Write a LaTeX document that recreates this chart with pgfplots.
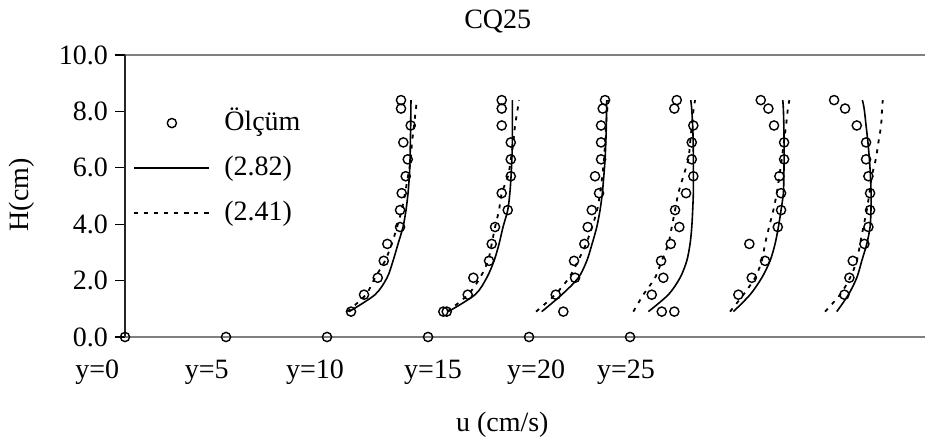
\documentclass[border=0pt]{standalone}
\usepackage{pgfplots}
\pgfplotsset{compat=1.18}
\usepackage{fontspec}
\setmainfont{Liberation Serif}
\begin{document}
\begin{tikzpicture}[font=\fontsize{14pt}{17pt}\selectfont]
\begin{axis}[
  scale only axis, width=400pt, height=141pt,
  xmin=0, xmax=158.4, ymin=0, ymax=10,
  separate axis lines,
  axis x line*=box, axis y line*=left,
  x axis line style={draw=gray, line width=0.9pt},
  y axis line style={draw=black!85, line width=0.8pt},
  xtick=\empty,
  ytick={0,2,4,6,8,10},
  /pgf/number format/assume math mode=true,
  yticklabel style={/pgf/number format/fixed, /pgf/number format/fixed zerofill, /pgf/number format/precision=1},
  tick align=outside, major tick length=5pt,
  tick style={black, line width=0.6pt},
  clip=false,
  legend style={at={(axis cs:1.6,5.99)}, anchor=west, draw=none, fill=none, inner sep=0pt,
     row sep=9.5pt, nodes={inner sep=0pt, text height=10pt, text depth=3pt},
     /tikz/every odd column/.append style={column sep=7pt}},
  legend cell align=left,
  legend image code/.code={\draw[mark repeat=2,mark phase=2,#1] plot coordinates {(0pt,0pt) (18.75pt,0pt) (37.5pt,0pt)};},
  circ/.style={only marks, mark=o, mark size=2.3pt, mark options={line width=0.7pt, black}},
  sol/.style={black, line width=0.8pt, smooth, tension=0.5},
  dot/.style={black, line width=0.9pt, dash pattern=on 2pt off 3pt, smooth, tension=0.5},
]
% profile 1 (y=0)
\addplot[circ] coordinates {(54.65,8.4)(54.65,8.1)(56.57,7.5)(55.11,6.9)(55.98,6.3)(55.58,5.7)(54.79,5.1)(54.46,4.5)(54.46,3.9)(51.94,3.3)(51.23,2.7)(50.04,2.1)(47.33,1.5)(44.75,0.9)(0,0)};
\addlegendentry{Ölçüm}
\addplot[sol] coordinates {(44.36,0.9)(49.50,1.5)(51.88,2.1)(53.07,2.7)(54.06,3.3)(55.05,3.9)(55.64,4.5)(56.04,5.1)(56.30,5.7)(56.44,6.3)(56.50,6.9)(56.57,7.5)(56.60,8.1)(56.63,8.4)};
\addlegendentry{(2.82)}
\addplot[dot] coordinates {(44.0,0.9)(47.7,1.5)(49.50,2.1)(51.49,2.7)(52.81,3.3)(53.86,3.9)(54.79,4.5)(55.45,5.1)(56.04,5.7)(56.57,6.3)(56.83,6.9)(57.23,7.5)(57.60,8.1)(57.82,8.4)};
\addlegendentry{(2.41)}
% profile 2 (y=5)
\addplot[circ, forget plot] coordinates {(74.59,8.4)(74.59,8.1)(74.59,7.5)(76.38,6.9)(76.38,6.3)(76.38,5.7)(74.59,5.1)(75.78,4.5)(73.27,3.9)(72.61,3.3)(72.08,2.7)(68.97,2.1)(67.86,1.5)(63.03,0.9)(63.70,0.9)(20,0)};
\addplot[sol, forget plot] coordinates {(64.0,0.9)(69.31,1.5)(71.62,2.1)(73.07,2.7)(74.06,3.3)(74.85,3.9)(75.78,4.5)(76.20,5.1)(76.44,5.7)(76.60,6.3)(76.69,6.9)(76.69,7.5)(76.69,8.1)(76.69,8.4)};
\addplot[dot, forget plot] coordinates {(63.8,0.9)(67.92,1.5)(70.30,2.1)(71.88,2.7)(72.61,3.3)(73.27,3.9)(74.06,4.5)(74.59,5.1)(75.84,5.7)(76.40,6.3)(76.89,6.9)(77.23,7.5)(77.76,8.1)(78.02,8.4)};
% profile 3 (y=10)
\addplot[circ, forget plot] coordinates {(95.05,8.4)(94.59,8.1)(94.26,7.5)(94.26,6.9)(94.26,6.3)(93.07,5.7)(93.86,5.1)(92.42,4.5)(91.62,3.9)(90.95,3.3)(88.91,2.7)(89.11,2.1)(85.29,1.5)(86.79,0.9)(40,0)};
\addplot[sol, forget plot] coordinates {(82.51,0.9)(86.48,1.5)(89.76,2.1)(91.43,2.7)(92.48,3.3)(93.41,3.9)(94.06,4.5)(94.51,5.1)(94.80,5.7)(95.05,6.3)(95.20,6.9)(95.30,7.5)(95.35,8.1)(95.39,8.4)};
\addplot[dot, forget plot] coordinates {(81.39,0.9)(85.15,1.5)(87.92,2.1)(89.70,2.7)(91.29,3.3)(92.48,3.9)(93.47,4.5)(94.06,5.1)(94.50,5.7)(94.85,6.3)(95.05,6.9)(95.25,7.5)(95.50,8.1)(95.64,8.4)};
% profile 4 (y=15)
\addplot[circ, forget plot] coordinates {(109.25,8.4)(108.77,8.1)(112.53,7.5)(112.22,6.9)(112.22,6.3)(112.53,5.7)(111.09,5.1)(108.91,4.5)(109.76,3.9)(108.06,3.3)(106.14,2.7)(106.59,2.1)(104.30,1.5)(106.28,0.9)(108.77,0.9)(60,0)};
\addplot[sol, forget plot] coordinates {(103.62,0.9)(107.58,1.5)(109.90,2.1)(111.23,2.7)(111.88,3.3)(112.22,3.9)(112.40,4.5)(112.53,5.1)(112.53,5.7)(112.53,6.3)(112.50,6.9)(112.40,7.5)(112.20,8.1)(112.02,8.4)};
\addplot[dot, forget plot] coordinates {(100.65,0.9)(102.63,1.5)(104.95,2.1)(106.28,2.7)(107.58,3.3)(108.26,3.9)(108.91,4.5)(109.56,5.1)(110.55,5.7)(111.54,6.3)(111.90,6.9)(112.22,7.5)(112.60,8.1)(112.87,8.4)};
% profile 5 (y=20)
\addplot[circ, forget plot] coordinates {(125.88,8.4)(127.39,8.1)(128.51,7.5)(130.50,6.9)(130.50,6.3)(129.56,5.7)(129.90,5.1)(129.90,4.5)(129.25,3.9)(123.62,3.3)(126.73,2.7)(124.10,2.1)(121.45,1.5)(80,0)};
\addplot[sol, forget plot] coordinates {(120.46,0.9)(123.76,1.5)(126.08,2.1)(127.72,2.7)(128.71,3.3)(129.37,3.9)(129.90,4.5)(130.36,5.1)(130.45,5.7)(130.50,6.3)(130.50,6.9)(130.45,7.5)(130.35,8.1)(130.24,8.4)};
\addplot[dot, forget plot] coordinates {(119.80,0.9)(122.44,1.5)(124.75,2.1)(126.08,2.7)(126.73,3.3)(127.52,3.9)(128.38,4.5)(129.05,5.1)(129.55,5.7)(130.04,6.3)(130.45,6.9)(130.89,7.5)(131.25,8.1)(131.54,8.4)};
% profile 6 (y=25)
\addplot[circ, forget plot] coordinates {(140.40,8.4)(142.57,8.1)(144.89,7.5)(146.73,6.9)(146.73,6.3)(147.19,5.7)(147.52,5.1)(147.52,4.5)(147.19,3.9)(146.40,3.3)(144.10,2.7)(143.43,2.1)(142.44,1.5)(100,0)};
\addplot[sol, forget plot] coordinates {(140.93,0.9)(143.23,1.5)(144.89,2.1)(145.88,2.7)(146.87,3.3)(147.52,3.9)(147.70,4.5)(147.72,5.1)(147.60,5.7)(147.39,6.3)(147.10,6.9)(146.73,7.5)(146.35,8.1)(146.00,8.4)};
\addplot[dot, forget plot] coordinates {(138.61,0.9)(141.58,1.5)(143.56,2.1)(144.89,2.7)(145.54,3.3)(146.20,3.9)(146.87,4.5)(147.39,5.1)(147.86,5.7)(148.65,6.3)(149.17,6.9)(149.70,7.5)(149.90,8.1)(150.04,8.4)};
% texts
\node at (axis cs:73.8,11.2) {CQ25};
\node[rotate=90] at (axis cs:-20.4,5.04) {H(cm)};
\node at (axis cs:74.7,-3.12) {u (cm/s)};
\node at (axis cs:-5.5,-1.24) {y=0};
\node at (axis cs:16.2,-1.24) {y=5};
\node at (axis cs:37.6,-1.24) {y=10};
\node at (axis cs:61.0,-1.24) {y=15};
\node at (axis cs:81.4,-1.24) {y=20};
\node at (axis cs:99.2,-1.24) {y=25};
\coordinate (bl) at (axis cs:-24.75,-3.794);
\coordinate (tr) at (axis cs:158.4,11.95);
\end{axis}
\pgfresetboundingbox
\path[use as bounding box] (bl) rectangle (tr);
\end{tikzpicture}
\end{document}
